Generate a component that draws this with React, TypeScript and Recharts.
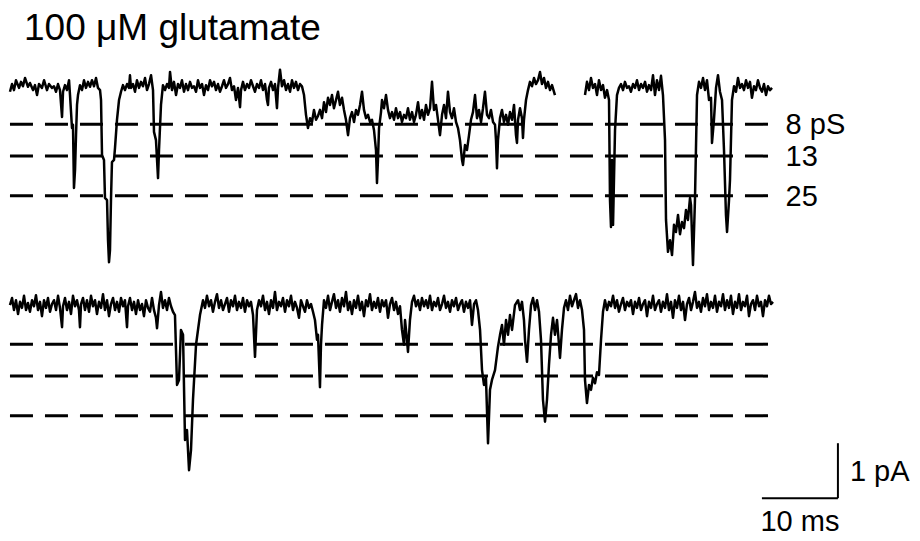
import React from 'react';
import { ComposedChart, Line, XAxis, YAxis, ReferenceLine, Label } from 'recharts';

// ---- text ----
const TITLE = '100 \u03bcM glutamate';
const LEVEL_LABELS = ['8 pS', '13', '25'];
const SCALE_I_LABEL = '1 pA';
const SCALE_T_LABEL = '10 ms';

// ---- conductance levels (pA, relative to closed baseline) ----
const LEVELS_PA = [-0.64, -1.22, -1.94];

// second sweep drawn this many pA below the first
const SWEEP2_OFFSET_PA = 4;
const SWEEP_START_MS = 0.26;
const SWEEP_END_MS = 101;

// scale bar (10 ms x 1 pA)
const SCALE_T_MS = 10;
const SCALE_I_PA = 1;
const SCALE_ORIGIN_MS = 109.2;
const SCALE_ORIGIN_PA = -7.44;

// ---- sweep 1, part A : [time ms, current pA] ----
const sweep1a: [number, number][] = [
  [0.26,-0.05],[0.53,0.09],[0.79,-0.02],[1.05,0.16],[1.45,0.02],[1.71,0.13],[1.97,0.05],[2.24,0.2],[2.63,0.04],[2.89,0.11],
  [3.29,-0.02],[3.55,0.07],[3.82,-0.11],[4.08,0.09],[4.47,0.02],[4.74,0.16],[5.13,-0.02],[5.39,0.09],[5.79,0.02],[6.05,0.05],
  [6.32,-0.05],[6.58,0.09],[6.84,-0.02],[7.11,-0.51],[7.24,-0.05],[7.5,0.07],[7.76,-0.02],[8.03,0.16],[8.16,-0.11],[8.42,-0.71],
  [8.55,-0.65],[8.68,-1.8],[8.82,-1.47],[8.95,-0.84],[9.08,-0.29],[9.21,-0.11],[9.47,0.07],[9.74,-0.02],[10.0,0.16],[10.26,0.02],
  [10.53,0.13],[10.79,0.04],[11.05,0.16],[11.32,0.05],[11.58,0.2],[11.84,0.02],[12.11,-0.02],[12.24,-0.2],[12.37,-1.2],[12.63,-1.29],
  [12.76,-1.98],[13.03,-2.02],[13.16,-2.75],[13.29,-3.15],[13.42,-2.93],[13.55,-2.02],[13.68,-1.33],[13.95,-1.29],[14.08,-1.07],[14.34,-0.56],
  [14.61,-0.2],[14.87,-0.05],[15.13,0.07],[15.39,-0.02],[15.66,0.09],[15.92,0.02],[16.05,0.25],[16.18,0.02],[16.45,0.09],[16.71,-0.05],
  [16.97,0.16],[17.24,0.02],[17.5,0.13],[17.76,0.05],[18.03,0.2],[18.29,-0.02],[18.55,0.09],[18.82,0.25],[19.08,-0.02],[19.21,-0.78],
  [19.47,-0.93],[19.61,-1.29],[19.74,-1.62],[19.87,-1.11],[20.13,-0.29],[20.39,0.07],[20.66,-0.02],[20.92,0.09],[21.18,0.02],[21.32,0.31],
  [21.58,-0.02],[21.84,0.13],[22.11,-0.11],[22.37,0.09],[22.63,0.02],[22.89,0.16],[23.16,-0.05],[23.42,0.09],[23.68,-0.02],[23.95,0.13],
  [24.21,0.02],[24.47,0.05],[24.74,-0.05],[25.0,0.16],[25.26,0.02],[25.53,0.09],[25.79,-0.11],[26.05,0.07],[26.32,-0.02],[26.58,0.16],
  [26.84,0.05],[27.11,0.13],[27.37,-0.02],[27.63,0.09],[27.89,-0.05],[28.16,0.05],[28.42,0.16],[28.68,0.02],[28.95,0.09],[29.21,0.2],
  [29.47,-0.02],[29.74,0.05],[30.0,-0.2],[30.26,0.02],[30.53,-0.33],[30.66,-0.02],[30.92,0.13],[31.18,-0.02],[31.45,0.09],[31.71,0.02],
  [31.97,0.16],[32.24,0.05],[32.5,-0.05],[32.76,0.09],[33.03,0.02],[33.29,0.16],[33.55,-0.02],[33.82,0.09],[34.08,-0.2],[34.21,-0.29],
  [34.34,0.02],[34.61,0.13],[34.87,-0.02],[35.13,0.09],[35.39,-0.35],[35.53,0.02],[35.79,0.35],[36.05,0.05],[36.32,0.16],[36.58,-0.02],
  [36.84,0.09],[37.11,-0.05],[37.37,0.16],[37.63,0.02],[37.89,0.13],[38.16,-0.02],[38.42,0.09],[38.68,0.05],[38.95,-0.11],[39.21,-0.47],
  [39.47,-0.71],[39.74,-0.53],[40.0,-0.6],[40.26,-0.38],[40.53,-0.56],[40.79,-0.49],[41.05,-0.38],[41.32,-0.53],[41.58,-0.24],[41.84,-0.42],
  [42.11,-0.16],[42.37,-0.29],[42.63,-0.11],[42.89,-0.35],[43.16,-0.2],[43.42,-0.05],[43.68,-0.29],[43.95,-0.16],[44.21,-0.38],[44.47,-0.56],
  [44.74,-0.84],[45.0,-0.53],[45.26,-0.42],[45.53,-0.6],[45.79,-0.38],[46.05,-0.47],[46.32,-0.29],[46.58,-0.05],[46.84,-0.38],[47.11,-0.53],
  [47.37,-0.47],[47.63,-0.6],[47.89,-0.56],[48.16,-0.75],[48.42,-1.11],[48.55,-1.71],[48.68,-1.29],[48.82,-0.71],[49.08,-0.42],[49.21,-0.2],
  [49.47,-0.35],[49.74,-0.11],[50.0,-0.38],[50.26,-0.53],[50.53,-0.42],[50.79,-0.56],[51.05,-0.35],[51.32,-0.53],[51.58,-0.42],[51.84,-0.6],
  [52.11,-0.47],[52.37,-0.53],[52.63,-0.35],[52.89,-0.56],[53.16,-0.42],[53.42,-0.6],[53.68,-0.47],[53.95,-0.24],[54.21,-0.53],[54.47,-0.38],
  [54.74,-0.56],[55.0,-0.29],[55.26,-0.47],[55.53,-0.35],[55.79,0.13],[56.05,-0.38],[56.32,-0.29],[56.58,-0.56],[56.84,-0.84],[57.11,-0.47],
  [57.37,-0.29],[57.63,-0.53],[57.89,-0.05],[58.16,-0.42],[58.42,-0.53],[58.68,-0.35],[58.95,-0.6],[59.21,-0.71],[59.47,-0.93],[59.74,-1.29],
  [59.87,-1.38],[60.13,-1.02],[60.39,-1.11],[60.66,-0.84],[60.92,-0.56],[61.18,-0.42],[61.45,-0.11],[61.71,-0.53],[61.97,-0.38],[62.24,-0.6],
  [62.5,-0.35],[62.76,-0.05],[63.03,-0.47],[63.29,-0.53],[63.55,-0.38],[63.82,-0.6],[64.08,-0.65],[64.21,-0.93],[64.34,-1.44],[64.47,-0.93],
  [64.74,-0.53],[65.0,-0.38],[65.26,-0.6],[65.53,-0.47],[65.79,-0.65],[66.05,-0.42],[66.32,-0.56],[66.58,-0.29],[66.84,-0.84],[66.97,-0.98],
  [67.11,-0.56],[67.37,-0.35],[67.63,-0.53],[67.76,-0.89],[67.89,-0.56],[68.16,-0.2],[68.42,-0.02],[68.68,0.13],[68.95,0.05],[69.21,0.2],
  [69.47,0.09],[69.74,0.16],[70.0,0.31],[70.26,0.09],[70.53,0.2],[70.79,0.02],[71.05,0.13],[71.32,-0.02],[71.58,0.07],[71.97,-0.11],
];

// ---- sweep 1, part B (after the gap) ----
const sweep1b: [number, number][] = [
  [75.92,-0.11],[76.18,0.13],[76.45,-0.02],[76.71,0.2],[76.97,0.02],[77.24,0.09],[77.5,-0.11],[77.76,0.16],[78.03,-0.02],[78.29,0.07],
  [78.55,-0.16],[78.82,-0.02],[79.08,-0.2],[79.21,-2.02],[79.34,-2.51],[79.47,-1.29],[79.61,-2.47],[79.87,-0.75],[80.13,-0.11],[80.39,0.02],
  [80.66,0.09],[80.92,-0.02],[81.18,0.13],[81.45,0.02],[81.71,0.05],[81.97,-0.05],[82.24,0.09],[82.5,0.02],[82.76,0.16],[83.03,-0.02],
  [83.29,0.09],[83.55,0.02],[83.82,0.13],[84.08,-0.05],[84.34,0.07],[84.61,-0.02],[84.87,0.25],[85.13,-0.11],[85.39,0.16],[85.66,-0.02],
  [85.92,0.24],[86.18,-0.11],[86.45,-0.93],[86.58,-2.38],[86.84,-2.96],[87.11,-2.75],[87.37,-3.02],[87.63,-2.47],[87.89,-2.6],[88.16,-2.29],
  [88.42,-2.64],[88.68,-2.42],[88.95,-2.53],[89.21,-2.2],[89.47,-2.38],[89.74,-1.98],[89.87,-2.11],[90.13,-3.2],[90.39,-2.02],[90.66,-0.11],
  [90.92,0.13],[91.18,0.02],[91.45,0.2],[91.71,-0.02],[91.97,0.16],[92.24,-0.2],[92.5,-0.16],[92.63,-0.98],[92.89,-0.56],[93.16,0.02],
  [93.42,0.25],[93.68,-0.05],[93.95,-0.2],[94.21,-1.11],[94.47,-2.29],[94.61,-2.6],[94.87,-2.02],[95.0,-1.65],[95.26,-0.2],[95.53,0.05],
  [95.79,-0.05],[96.05,0.2],[96.32,0.02],[96.58,0.09],[96.84,-0.02],[97.11,0.16],[97.37,0.02],[97.63,0.13],[97.89,-0.16],[98.16,0.05],
  [98.42,-0.02],[98.68,0.16],[98.95,0.02],[99.21,-0.05],[99.47,0.09],[99.74,-0.11],[100.0,0.05],[100.26,-0.02],[100.53,0.02],
];

// ---- sweep 2 ----
const sweep2: [number, number][] = [
  [0.26,0.07],[0.53,0.2],[0.79,-0.02],[1.05,0.16],[1.32,-0.09],[1.58,0.13],[1.84,0.02],[2.11,0.24],[2.37,-0.02],[2.63,0.11],
  [2.89,-0.05],[3.16,0.16],[3.42,0.05],[3.68,0.25],[3.95,-0.02],[4.21,0.13],[4.47,-0.13],[4.74,0.16],[5.0,0.02],[5.26,0.2],
  [5.53,-0.05],[5.79,0.09],[6.05,0.16],[6.32,-0.02],[6.58,0.24],[6.84,0.02],[7.11,-0.33],[7.24,0.05],[7.5,0.2],[7.76,-0.02],
  [8.03,0.13],[8.29,-0.09],[8.55,0.24],[8.82,0.05],[9.08,0.16],[9.34,-0.02],[9.47,-0.33],[9.61,0.09],[9.87,0.2],[10.13,-0.02],
  [10.39,0.16],[10.66,-0.05],[10.92,0.24],[11.18,0.05],[11.45,0.16],[11.71,-0.09],[11.97,0.13],[12.24,0.02],[12.5,0.27],[12.76,-0.02],
  [13.03,0.16],[13.29,-0.13],[13.55,0.09],[13.82,0.2],[14.08,-0.02],[14.34,0.13],[14.61,-0.05],[14.87,0.2],[15.13,0.05],[15.39,0.16],
  [15.66,-0.33],[15.79,0.05],[16.05,0.2],[16.32,-0.02],[16.58,0.13],[16.84,-0.09],[17.11,0.16],[17.37,-0.02],[17.63,0.09],[17.89,-0.13],
  [18.16,0.16],[18.42,0.02],[18.68,-0.05],[18.95,0.2],[19.21,-0.02],[19.47,-0.16],[19.61,-0.35],[19.87,0.07],[20.13,0.31],[20.39,0.02],
  [20.66,0.16],[20.92,-0.02],[21.18,0.2],[21.45,0.05],[21.71,-0.05],[21.97,-0.11],[22.24,-1.38],[22.5,-1.29],[22.76,-0.38],[23.03,-0.47],
  [23.29,-2.38],[23.55,-2.2],[23.82,-2.93],[24.08,-2.56],[24.34,-1.65],[24.74,-0.65],[25.26,-0.11],[25.66,0.16],[25.92,0.02],[26.18,0.24],
  [26.45,0.05],[26.71,0.16],[26.97,-0.05],[27.24,0.13],[27.5,0.27],[27.76,0.02],[28.03,0.16],[28.29,-0.02],[28.55,0.09],[28.82,0.2],
  [29.08,-0.05],[29.34,0.16],[29.61,0.05],[29.87,0.24],[30.13,-0.02],[30.39,0.13],[30.66,0.02],[30.92,0.2],[31.18,-0.05],[31.45,0.16],
  [31.71,0.05],[31.97,0.13],[32.24,-0.11],[32.5,-0.87],[32.76,-0.02],[33.03,0.16],[33.29,0.05],[33.55,0.24],[33.82,-0.02],[34.08,0.13],
  [34.34,-0.09],[34.61,0.16],[34.87,0.02],[35.13,0.31],[35.39,-0.02],[35.66,0.13],[35.92,0.05],[36.18,0.2],[36.45,-0.05],[36.71,0.16],
  [36.97,0.05],[37.24,0.24],[37.5,-0.02],[37.76,0.13],[38.03,0.02],[38.29,-0.16],[38.55,0.16],[38.82,0.05],[39.08,-0.05],[39.34,0.16],
  [39.61,0.02],[39.87,0.09],[40.13,-0.05],[40.39,-0.2],[40.66,-0.56],[40.79,-0.47],[41.05,-1.42],[41.18,-0.65],[41.32,-0.29],[41.58,0.16],
  [41.84,0.02],[42.11,0.24],[42.37,-0.02],[42.63,0.13],[42.89,0.27],[43.16,0.02],[43.42,0.16],[43.68,-0.05],[43.95,0.2],[44.21,0.05],
  [44.47,0.31],[44.74,-0.02],[45.0,0.13],[45.26,-0.09],[45.53,0.16],[45.79,0.02],[46.05,0.24],[46.32,-0.02],[46.58,0.13],[46.84,-0.13],
  [47.11,0.16],[47.37,0.05],[47.63,0.27],[47.89,-0.02],[48.16,0.13],[48.42,0.02],[48.68,0.2],[48.95,-0.05],[49.21,0.16],[49.47,0.05],
  [49.74,0.16],[50.0,-0.16],[50.26,0.09],[50.53,0.2],[50.79,-0.02],[51.05,0.13],[51.32,-0.09],[51.58,0.05],[51.84,-0.38],[52.11,-0.65],
  [52.24,-0.2],[52.5,-0.56],[52.63,-0.78],[52.89,-0.2],[53.16,0.13],[53.42,0.24],[53.68,0.05],[53.95,0.16],[54.21,-0.02],[54.47,0.2],
  [54.74,0.05],[55.0,0.16],[55.26,0.02],[55.53,0.24],[55.79,-0.02],[56.05,0.13],[56.32,0.05],[56.58,0.2],[56.84,-0.02],[57.11,0.09],
  [57.37,0.24],[57.63,0.02],[57.89,0.13],[58.16,-0.05],[58.42,0.16],[58.68,0.05],[58.95,0.2],[59.21,-0.02],[59.47,0.09],[59.74,0.16],
  [60.0,-0.05],[60.26,0.13],[60.53,0.02],[60.79,0.16],[61.05,-0.29],[61.32,0.09],[61.58,0.16],[61.84,-0.02],[62.11,-0.38],[62.37,-1.11],
  [62.63,-1.38],[62.89,-1.25],[63.16,-2.44],[63.42,-1.47],[63.68,-1.29],[64.08,-1.11],[64.47,-0.69],[64.74,-0.47],[65.0,-0.29],[65.26,-0.65],
  [65.53,-0.2],[65.79,-0.47],[66.05,-0.11],[66.32,-0.38],[66.71,0.07],[67.11,0.16],[67.37,-0.02],[67.63,0.13],[67.89,-0.2],[68.03,-0.56],
  [68.29,-0.96],[68.55,-0.38],[68.82,0.07],[69.08,0.2],[69.34,-0.02],[69.61,0.16],[69.87,-0.05],[70.13,-0.56],[70.39,-1.65],[70.66,-2.05],
  [70.92,-1.65],[71.18,-1.02],[71.45,-0.47],[71.71,-0.16],[71.97,-0.47],[72.24,-0.2],[72.5,-0.65],[72.63,-0.89],[72.89,-0.38],[73.16,0.02],
  [73.42,0.16],[73.68,-0.02],[73.95,0.24],[74.21,0.05],[74.47,0.16],[74.74,0.27],[75.0,0.02],[75.26,0.16],[75.53,-0.02],[75.79,-0.38],
  [75.92,-1.29],[76.18,-1.71],[76.45,-1.38],[76.71,-1.47],[76.97,-1.25],[77.24,-1.35],[77.5,-1.15],[77.76,-1.2],[78.03,-0.56],[78.29,-0.05],
  [78.55,0.16],[78.82,-0.02],[79.08,0.13],[79.34,0.05],[79.61,0.24],[79.87,0.02],[80.13,0.16],[80.39,-0.05],[80.66,0.09],[80.92,0.2],
  [81.18,-0.02],[81.45,0.13],[81.71,0.05],[81.97,0.16],[82.24,-0.09],[82.5,0.13],[82.76,0.02],[83.03,0.2],[83.29,-0.02],[83.55,0.09],
  [83.82,0.16],[84.08,-0.13],[84.34,0.13],[84.61,0.02],[84.87,0.24],[85.13,-0.02],[85.39,0.09],[85.66,0.16],[85.92,-0.05],[86.18,0.13],
  [86.45,0.02],[86.71,0.27],[86.97,-0.02],[87.24,0.13],[87.5,-0.16],[87.76,0.16],[88.03,0.02],[88.29,0.24],[88.55,-0.02],[88.82,0.13],
  [89.08,-0.2],[89.34,0.09],[89.61,0.2],[89.87,-0.02],[90.13,0.13],[90.39,0.31],[90.66,0.02],[90.92,0.13],[91.18,-0.05],[91.45,0.2],
  [91.71,0.05],[91.97,0.27],[92.24,-0.02],[92.5,0.13],[92.76,0.02],[93.03,0.24],[93.29,-0.05],[93.55,0.13],[93.82,0.05],[94.08,0.27],
  [94.34,-0.02],[94.61,0.16],[94.87,0.02],[95.13,0.24],[95.39,-0.09],[95.66,0.13],[95.92,0.02],[96.18,0.27],[96.45,-0.02],[96.71,0.13],
  [96.97,0.05],[97.24,0.24],[97.5,-0.13],[97.76,0.09],[98.03,0.16],[98.29,-0.02],[98.55,0.24],[98.82,0.05],[99.08,0.13],[99.34,-0.13],
  [99.61,0.16],[99.87,0.05],[100.13,0.24],[100.39,0.09],[100.66,0.13],
];

// ---- layout ----
const W = 920;
const H = 541;
const PX_PER_MS = 7.6;
const PX_PER_PA = 55;
const ORIGIN_X_PX = 8;
const BASELINE_Y_PX = 89;
const X_DOMAIN: [number, number] = [-ORIGIN_X_PX / PX_PER_MS, (W - ORIGIN_X_PX) / PX_PER_MS];
const Y_DOMAIN: [number, number] = [(BASELINE_Y_PX - H) / PX_PER_PA, BASELINE_Y_PX / PX_PER_PA];

const FONT = '"Liberation Sans", Arial, Helvetica, sans-serif';
const INK = '#000';

const toRows = (pts: [number, number][], offset: number) =>
  pts.map(([t, v]) => ({ t, v: v - offset }));

const rows1a = toRows(sweep1a, 0);
const rows1b = toRows(sweep1b, 0);
const rows2 = toRows(sweep2, SWEEP2_OFFSET_PA);

export default function App() {
  const traceProps = {
    dataKey: 'v',
    stroke: INK,
    strokeWidth: 2.5,
    dot: false,
    activeDot: false,
    type: 'linear' as const,
    isAnimationActive: false,
    strokeLinejoin: 'round' as const,
  };
  const dash = { stroke: INK, strokeWidth: 3, strokeDasharray: '23 12', ifOverflow: 'visible' as const };
  return (
    <div style={{ position: 'absolute', left: 0, top: 0, width: W, height: H, background: '#fff' }}>
      <div
        style={{
          position: 'absolute',
          left: 24,
          top: 9,
          fontFamily: FONT,
          fontSize: 37,
          lineHeight: 1,
          color: INK,
          whiteSpace: 'nowrap',
        }}
      >
        {TITLE}
      </div>
      <ComposedChart width={W} height={H} margin={{ top: 0, right: 0, bottom: 0, left: 0 }}>
        <XAxis type="number" dataKey="t" domain={X_DOMAIN} hide allowDataOverflow />
        <YAxis type="number" domain={Y_DOMAIN} hide allowDataOverflow />
        {LEVELS_PA.map((lvl, i) => (
          <ReferenceLine
            key={'a' + i}
            segment={[{ x: SWEEP_START_MS, y: lvl }, { x: SWEEP_END_MS, y: lvl }]}
            {...dash}
          >
            <Label value={LEVEL_LABELS[i]} position="right" offset={10} fill={INK} fontSize={29} fontFamily={FONT} />
          </ReferenceLine>
        ))}
        {LEVELS_PA.map((lvl, i) => (
          <ReferenceLine
            key={'b' + i}
            segment={[
              { x: SWEEP_START_MS, y: lvl - SWEEP2_OFFSET_PA },
              { x: SWEEP_END_MS, y: lvl - SWEEP2_OFFSET_PA },
            ]}
            {...dash}
          />
        ))}
        <Line data={rows1a} {...traceProps} />
        <Line data={rows1b} {...traceProps} />
        <Line data={rows2} {...traceProps} />
        <ReferenceLine
          segment={[
            { x: SCALE_ORIGIN_MS, y: SCALE_ORIGIN_PA + SCALE_I_PA },
            { x: SCALE_ORIGIN_MS, y: SCALE_ORIGIN_PA },
          ]}
          stroke={INK}
          strokeWidth={2}
          ifOverflow="visible"
        >
          <Label value={SCALE_I_LABEL} position="right" offset={12} fill={INK} fontSize={29} fontFamily={FONT} />
        </ReferenceLine>
        <ReferenceLine
          segment={[
            { x: SCALE_ORIGIN_MS - SCALE_T_MS, y: SCALE_ORIGIN_PA },
            { x: SCALE_ORIGIN_MS, y: SCALE_ORIGIN_PA },
          ]}
          stroke={INK}
          strokeWidth={2}
          ifOverflow="visible"
        >
          <Label value={SCALE_T_LABEL} position="bottom" offset={12} fill={INK} fontSize={29} fontFamily={FONT} />
        </ReferenceLine>
      </ComposedChart>
    </div>
  );
}
